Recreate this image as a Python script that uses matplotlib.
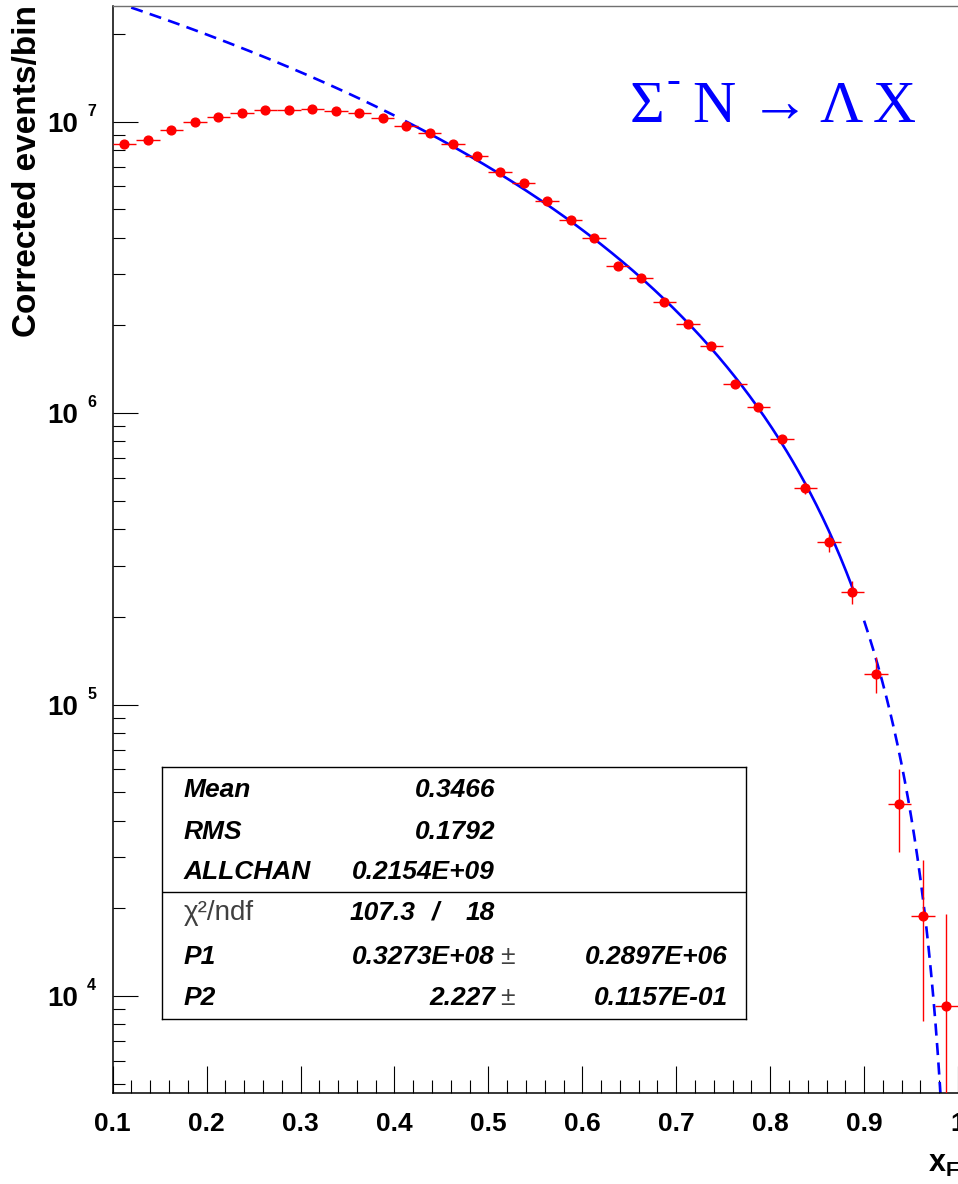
import matplotlib
matplotlib.use('Agg')
import matplotlib.pyplot as plt
import matplotlib.transforms as mtransforms
import numpy as np
from matplotlib.ticker import MultipleLocator, LogLocator, FuncFormatter, NullFormatter

plt.rcParams['font.family'] = ['Liberation Sans', 'DejaVu Sans']
plt.rcParams['mathtext.fontset'] = 'custom'
plt.rcParams['mathtext.rm'] = 'Liberation Sans'
plt.rcParams['mathtext.bf'] = 'Liberation Sans:bold'
plt.rcParams['mathtext.it'] = 'Liberation Sans:italic'

# x_F bin centres (bins of 0.025 from 0.1 to 1.0)
xf = [0.1125, 0.1375, 0.1625, 0.1875, 0.2125, 0.2375, 0.2625, 0.2875, 0.3125,
      0.3375, 0.3625, 0.3875, 0.4125, 0.4375, 0.4625, 0.4875, 0.5125, 0.5375,
      0.5625, 0.5875, 0.6125, 0.6375, 0.6625, 0.6875, 0.7125, 0.7375, 0.7625,
      0.7875, 0.8125, 0.8375, 0.8625, 0.8875, 0.9125, 0.9375, 0.9625, 0.9875]
bin_half = 0.0125

# corrected events per bin
counts = [8.39e6, 8.65e6, 9.39e6, 1.00e7, 1.04e7, 1.07e7, 1.10e7, 1.10e7, 1.108e7,
          1.09e7, 1.07e7, 1.032e7, 9.65e6, 9.17e6, 8.41e6, 7.61e6, 6.74e6, 6.15e6,
          5.35e6, 4.61e6, 3.99e6, 3.20e6, 2.91e6, 2.40e6, 2.03e6, 1.70e6, 1.263e6,
          1.05e6, 8.18e5, 5.55e5, 3.60e5, 2.44e5, 1.272e5, 4.575e4, 1.879e4, 9.26e3]
count_err = [4.0e4, 4.0e4, 4.0e4, 4.0e4, 4.0e4, 4.0e4, 4.0e4, 4.0e4, 4.0e4,
             4.0e4, 4.0e4, 4.0e4, 3.5e4, 3.5e4, 3.5e4, 3.5e4, 3.0e4, 3.0e4,
             3.0e4, 3.0e4, 2.5e4, 2.5e4, 2.5e4, 2.5e4, 2.0e4, 2.0e4, 1.8e4,
             1.8e4, 1.9e4, 2.5e4, 2.5e4, 2.2e4, 1.8e4, 1.45e4, 1.06e4, 9.8e3]

# fit P1*(1-x)^P2 over 0.4 < x < 0.9
p1 = 0.3273e8
p2 = 2.227
fit_lo, fit_hi = 0.4125, 0.8875

decades = [4, 5, 6, 7]

stat_names = ['Mean', 'RMS', 'ALLCHAN']
stat_values = ['0.3466', '0.1792', '0.2154E+09']
chi2_text = ['107.3', '/', '18']
par_names = ['P1', 'P2']
par_values = ['0.3273E+08', '2.227']
par_errors = ['0.2897E+06', '0.1157E-01']

W, H = 958, 1184


def px(x, y):
    # pixel position (from top left) -> figure fraction
    return x / W, 1 - y / H


def fit_func(x):
    return p1 * (1 - x) ** p2


fig = plt.figure(figsize=(W / 100, H / 100), dpi=100)
ax = fig.add_axes([112.7 / W, 91 / H, (W - 112.7) / W, (1093 - 5.7) / H])
ax.set_yscale('log')
ax.set_xlim(0.1, 1.0)
ax.set_ylim(4650, 2.5e7)

# fitted function: solid inside the fit range, dashed outside
blue = '#0000ff'
x_in = np.linspace(fit_lo, fit_hi, 300)
ax.plot(x_in, fit_func(x_in), color=blue, lw=1.9, zorder=2)
dash = (0, (4.6, 2.8))
x_left = np.linspace(0.1, 0.4, 200)
x_right = np.linspace(0.9, 0.9995, 300)
ax.plot(x_left, fit_func(x_left), color=blue, lw=1.9, ls=dash, zorder=2)
ax.plot(x_right, fit_func(x_right), color=blue, lw=1.9, ls=dash, zorder=2)

ax.errorbar(xf, counts, xerr=bin_half, yerr=count_err, fmt='o', color='red',
            ms=6.3, elinewidth=1.0, capsize=0, zorder=3)

# axes, ticks
ax.xaxis.set_major_locator(MultipleLocator(0.1))
ax.xaxis.set_minor_locator(MultipleLocator(0.02))
ax.xaxis.set_major_formatter(FuncFormatter(lambda v, p: '%g' % round(v, 2)))
ax.yaxis.set_major_locator(LogLocator(base=10))
ax.yaxis.set_minor_locator(LogLocator(base=10, subs=np.arange(2, 10)))
ax.yaxis.set_minor_formatter(NullFormatter())
ax.yaxis.set_major_formatter(FuncFormatter(lambda v, p: '10'))

ax.tick_params(axis='both', which='both', direction='in', top=False, right=False,
               width=0.8, color='black')
ax.tick_params(axis='x', which='major', length=19.4, pad=14, labelsize=19)
ax.tick_params(axis='x', which='minor', length=9.4)
ax.tick_params(axis='y', which='major', length=18, pad=25, labelsize=20)
ax.tick_params(axis='y', which='minor', length=8.6)
for lab in ax.get_xticklabels() + ax.get_yticklabels():
    lab.set_fontweight('bold')

# decade exponents written beside the "10" labels
exp_trans = mtransforms.offset_copy(ax.get_yaxis_transform(), fig=fig,
                                    x=-25.7, y=10.5, units='dots')
for e in decades:
    ax.text(0, 10.0 ** e, str(e), transform=exp_trans, ha='left', va='center',
            fontsize=11.5, fontweight='bold', clip_on=False)

ax.spines['right'].set_visible(False)
ax.spines['left'].set_linewidth(1.1)
ax.spines['bottom'].set_linewidth(1.1)
ax.spines['top'].set_linewidth(1.0)
ax.spines['top'].set_color('#707070')

fig.text(*px(27.5, 5), 'Corrected events/bin', rotation=90, ha='center', va='top',
         fontsize=24, fontweight='bold')
fig.text(*px(928, 1172), r'$\mathbf{x_{F}}$', fontsize=22, ha='left', va='baseline')

# reaction label
for s, x in zip(['\u03a3', 'N', '\u2192', '\u039b', 'X'], [630, 692, 750, 819, 873]):
    fig.text(*px(x, 122), s, fontsize=43, color=blue, family='Liberation Serif',
             ha='left', va='baseline')
fig.text(*px(666, 92), '-', fontsize=30, color=blue, family='Liberation Serif',
         ha='left', va='baseline')

# statistics box
box = fig.add_axes([162 / W, (H - 1019) / H, 584 / W, 252 / H])
box.set_xlim(162, 746)
box.set_ylim(1019, 767)
box.set_xticks([])
box.set_yticks([])
for sp in box.spines.values():
    sp.set_linewidth(1.0)
box.axhline(892, color='black', lw=1.0)

bi = dict(fontsize=19, fontweight='bold', fontstyle='italic', va='center')
for name, val, y in zip(stat_names, stat_values, [790, 832, 872]):
    box.text(184, y, name, ha='left', **bi)
    box.text(495, y, val, ha='right', **bi)

box.text(184, 913, '\u03c7\u00b2/ndf', ha='left', va='center', fontsize=20,
         color='#404040')
box.text(350, 913, chi2_text[0], ha='left', **bi)
box.text(436, 913, chi2_text[1], ha='center', **bi)
box.text(495, 913, chi2_text[2], ha='right', **bi)

for name, val, err, y in zip(par_names, par_values, par_errors, [957, 998]):
    box.text(184, y, name, ha='left', **bi)
    box.text(495, y, val, ha='right', **bi)
    box.text(500, y, '\u00b1', ha='left', va='center', fontsize=19, color='#404040')
    box.text(728, y, err, ha='right', **bi)

fig.savefig('out.png', dpi=100)
